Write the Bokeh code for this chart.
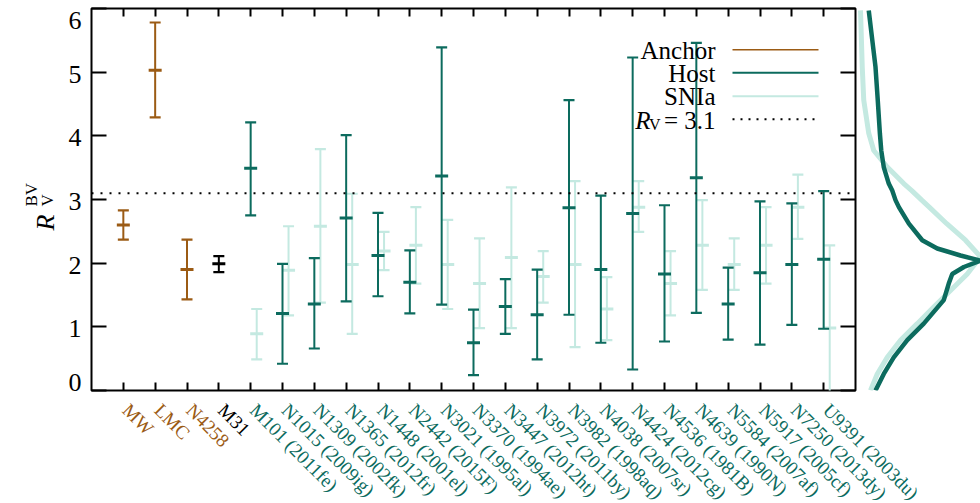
import math
from bokeh.plotting import figure
from bokeh.models import (Range1d, FixedTicker, LinearAxis, Span, Label,
                          ColumnDataSource, Arrow, CustomJSTickFormatter)
from bokeh.layouts import row, column
from bokeh.core.properties import value
from bokeh.embed import file_html
from bokeh.resources import INLINE

# ---------------- data ----------------
anchor_names = ["MW", "LMC", "N4258"]
anchor_rv = [2.60, 5.03, 1.90]
anchor_lo = [2.37, 4.29, 1.43]
anchor_hi = [2.83, 5.78, 2.37]

m31_names = ["M31"]
m31_rv = [1.99]
m31_lo = [1.86]
m31_hi = [2.11]

host_names = ["M101 (2011fe)", "N1015 (2009ig)", "N1309 (2002fk)", "N1365 (2012fr)",
              "N1448 (2001el)", "N2442 (2015F)", "N3021 (1995al)", "N3370 (1994ae)",
              "N3447 (2012ht)", "N3972 (2011by)", "N3982 (1998aq)", "N4038 (2007sr)",
              "N4424 (2012cg)", "N4536 (1981B)", "N4639 (1990N)", "N5584 (2007af)",
              "N5917 (2005cf)", "N7250 (2013dy)", "U9391 (2003du)"]
host_rv = [3.49, 1.21, 1.36, 2.71, 2.12, 1.70, 3.37, 0.75, 1.32, 1.19, 2.87, 1.90,
           2.78, 1.83, 3.34, 1.36, 1.85, 1.98, 2.06]
host_lo = [2.75, 0.42, 0.66, 1.40, 1.48, 1.21, 1.35, 0.24, 0.89, 0.49, 1.19, 0.75,
           0.33, 0.77, 1.22, 0.80, 0.72, 1.03, 0.97]
host_hi = [4.21, 1.99, 2.08, 4.01, 2.79, 2.20, 5.39, 1.27, 1.75, 1.90, 4.56, 3.06,
           5.23, 2.91, 5.46, 1.93, 2.97, 2.94, 3.13]

snia_rv = [0.89, 1.89, 2.58, 1.98, 2.19, 2.28, 1.98, 1.68, 2.09, 1.79, 1.98, 1.28,
           2.88, 1.68, 2.28, 1.98, 2.28, 2.88, 0.98]
snia_lo = [0.49, 1.18, 1.38, 0.89, 1.89, 1.68, 1.28, 0.98, 0.98, 1.38, 0.68, 0.79,
           2.49, 1.18, 1.58, 1.58, 1.68, 2.38, -0.32]
snia_hi = [1.28, 2.58, 3.79, 3.09, 2.49, 2.88, 2.68, 2.39, 3.19, 2.19, 3.29, 1.78,
           3.29, 2.19, 2.99, 2.39, 2.88, 3.39, 2.28]

# density curves (right panel), relative units
host_kde_rv = [5.97, 5.08, 4.56, 4.04, 3.77, 3.51, 3.25, 3.14, 2.99, 2.88, 2.62, 2.36,
               2.23, 2.12, 2.04, 1.94, 1.83, 1.68, 1.42, 1.05, 0.79, 0.52, 0.26, 0.0]
host_kde = [0.106, 0.16, 0.178, 0.195, 0.206, 0.226, 0.266, 0.294, 0.32, 0.347, 0.427,
            0.534, 0.654, 0.84, 1.0, 0.867, 0.774, 0.746, 0.706, 0.546, 0.414, 0.306,
            0.226, 0.16]
snia_kde_rv = [5.97, 5.08, 4.56, 4.04, 3.77, 3.51, 3.25, 3.14, 2.99, 2.88, 2.62, 2.36,
               2.10, 1.83, 1.57, 1.31, 1.05, 0.79, 0.52, 0.26, 0.0]
snia_kde = [0.04, 0.054, 0.066, 0.106, 0.146, 0.254, 0.386, 0.45, 0.53, 0.59, 0.73,
            0.88, 1.0, 0.894, 0.76, 0.626, 0.494, 0.36, 0.254, 0.174, 0.12]

rv_ref = 3.1
y_ticks = [0, 1, 2, 3, 4, 5, 6]
y_tick_labels = ["0", "1", "2", "3", "4", "5", "6"]

# ---------------- style ----------------
C_ANCHOR = "#9b5b14"
C_HOST = "#0c6b5e"
C_SNIA = "#c4e9e1"
C_M31 = "#000000"
FONT = "Liberation Serif"

names = anchor_names + m31_names + host_names
n_cat = len(names)
label_colors = [C_ANCHOR] * len(anchor_names) + [C_M31] * len(m31_names) + [C_HOST] * len(host_names)

W0 = 89             # left panel (tick labels + y-axis title)
FW, FH = 764, 382   # main frame
LB = 2              # main left border
TOP, BOT = 8, 8
W2 = 123            # density panel
ROW_H = TOP + FH + BOT
FRAME_LEFT = W0 + LB
PX_PER_Y = FH / 6.0


def px2x(px):
    return -1 + (px - FRAME_LEFT) / (FW / (n_cat + 1))


def py2y(py):
    return 6 - (py - TOP) / PX_PER_Y


blank = CustomJSTickFormatter(code="return ''")
yrange = Range1d(0, 6)

p = figure(frame_width=FW, frame_height=FH, x_range=Range1d(-1, n_cat),
           y_range=yrange, output_backend="svg", toolbar_location=None,
           min_border_left=LB, min_border_right=2, min_border_top=TOP,
           min_border_bottom=BOT, background_fill_color="white",
           border_fill_color="white")
p.grid.visible = False
p.outline_line_color = "black"
p.outline_line_width = 2

xt = FixedTicker(ticks=list(range(n_cat)))
yt = FixedTicker(ticks=y_ticks)

p.xaxis.ticker = xt
p.yaxis.ticker = yt
for ax in list(p.xaxis) + list(p.yaxis):
    ax.formatter = blank
    ax.major_label_text_font_size = "1px"
    ax.major_label_standoff = 0
    ax.major_tick_out = 0
    ax.minor_tick_line_color = None
    ax.axis_line_color = None
    ax.major_tick_line_width = 2
p.xaxis.major_tick_in = 8
p.yaxis.major_tick_in = 15

top_ax = LinearAxis(ticker=xt, formatter=blank, major_label_text_font_size="1px",
                    major_tick_in=8, major_tick_out=0, axis_line_color=None,
                    minor_tick_line_color=None, major_tick_line_width=2,
                    major_label_standoff=0)
p.add_layout(top_ax, "above")
right_ax = LinearAxis(ticker=yt, formatter=blank, major_label_text_font_size="1px",
                      major_tick_in=15, major_tick_out=0, axis_line_color=None,
                      minor_tick_line_color=None, major_tick_line_width=2,
                      major_label_standoff=0)
p.add_layout(right_ax, "right")

p.add_layout(Span(location=rv_ref, dimension="width", line_color="black",
                  line_dash="2 7", line_width=2))


def errbars(xs, ys, lo, hi, color, lw=2):
    src = ColumnDataSource(dict(x=xs, y=ys, lo=lo, hi=hi))
    p.segment(x0="x", y0="lo", x1="x", y1="hi", source=src, line_color=color, line_width=lw)
    p.dash(x="x", y="lo", source=src, size=11, line_color=color, line_width=2.2)
    p.dash(x="x", y="hi", source=src, size=11, line_color=color, line_width=2.2)
    p.dash(x="x", y="y", source=src, size=13, line_color=color, line_width=3)


i_anchor = list(range(len(anchor_names)))
i_m31 = [len(anchor_names) + k for k in range(len(m31_names))]
i_host = [len(anchor_names) + len(m31_names) + k for k in range(len(host_names))]
i_snia = [i + 0.19 for i in i_host]

errbars(i_snia, snia_rv, snia_lo, snia_hi, C_SNIA)
errbars(i_host, host_rv, host_lo, host_hi, C_HOST)
errbars(i_anchor, anchor_rv, anchor_lo, anchor_hi, C_ANCHOR)
errbars(i_m31, m31_rv, m31_lo, m31_hi, C_M31)

# legend (text on the left, sample line on the right)
LEG_FS = "25px"
leg_right = px2x(715)
leg_x0, leg_x1 = px2x(732), px2x(818)
leg_items = [("Anchor", C_ANCHOR, 1.6, 49.5, 49.3),
             ("Host", C_HOST, 2, 72.8, 72.3),
             ("SNIa", C_SNIA, 2, 96.2, 95.7)]
for txt, col, lw, base, ly in leg_items:
    p.add_layout(Label(x=leg_right, y=py2y(base), text=txt, text_align="right",
                       text_baseline="alphabetic", text_font=FONT, text_font_size=LEG_FS,
                       text_color="black"))
    p.add_layout(Arrow(start=None, end=None, x_start=leg_x0, y_start=py2y(ly),
                       x_end=leg_x1, y_end=py2y(ly), line_color=col, line_width=lw))
p.add_layout(Label(x=leg_right, y=py2y(119.5), text="= 3.1", text_align="right",
                   text_baseline="alphabetic", text_font=FONT, text_font_size=LEG_FS,
                   text_color="black"))
p.add_layout(Label(x=px2x(660), y=py2y(123.5), text="V", text_align="right",
                   text_baseline="alphabetic", text_font=FONT, text_font_size="16px",
                   text_color="black"))
p.add_layout(Label(x=px2x(650), y=py2y(119.5), text="R", text_align="right",
                   text_baseline="alphabetic", text_font=FONT, text_font_style="italic",
                   text_font_size=LEG_FS, text_color="black"))
p.add_layout(Arrow(start=None, end=None, x_start=leg_x0, y_start=py2y(118.7),
                   x_end=leg_x1, y_end=py2y(118.7), line_color="black", line_width=2,
                   line_dash="2 6"))

# left panel: y tick labels and y-axis title  R_V^BV (frame reaches row bottom)
p0 = figure(frame_width=W0, frame_height=FH + BOT, x_range=Range1d(0, W0),
            y_range=Range1d(py2y(ROW_H), 6), output_backend="svg",
            toolbar_location=None, min_border_left=0, min_border_right=0,
            min_border_top=TOP, min_border_bottom=0, x_axis_location=None,
            y_axis_location=None, background_fill_color="white",
            border_fill_color="white")
p0.grid.visible = False
p0.outline_line_color = None
nudge_px = {0: -8, 6: 12}   # end labels pulled inside the frame
tick_y = [t - nudge_px.get(t, 2) / PX_PER_Y for t in y_ticks]
p0.text(x=[81] * len(y_ticks), y=tick_y, text=y_tick_labels, text_align="right",
        text_baseline="middle", text_font=value(FONT), text_font_size="26px",
        text_color="black")
p0.add_layout(Label(x=45, y=py2y(230), text="R", angle=math.pi / 2, text_align="left",
                    text_baseline="alphabetic", text_font=FONT, text_font_style="italic",
                    text_font_size="26px", text_color="black"))
p0.add_layout(Label(x=47, y=py2y(206), text="V", angle=math.pi / 2, text_align="left",
                    text_baseline="alphabetic", text_font=FONT, text_font_size="17px",
                    text_color="black"))
p0.add_layout(Label(x=31, y=py2y(206), text="BV", angle=math.pi / 2, text_align="left",
                    text_baseline="alphabetic", text_font=FONT, text_font_size="17px",
                    text_color="black"))

# right panel: densities
p2 = figure(frame_width=W2, frame_height=FH, x_range=Range1d(0.016, 1.0),
            y_range=yrange, output_backend="svg", toolbar_location=None,
            min_border_left=0, min_border_right=0, min_border_top=TOP,
            min_border_bottom=BOT, x_axis_location=None, y_axis_location=None,
            background_fill_color="white", border_fill_color="white")
p2.grid.visible = False
p2.outline_line_color = None
p2.line(snia_kde, snia_kde_rv, line_color=C_SNIA, line_width=5)
p2.line(host_kde, host_kde_rv, line_color=C_HOST, line_width=4.5)

# bottom panel: rotated, coloured category labels aligned with the main x scale
H3 = 503 - ROW_H
p3 = figure(frame_width=980, frame_height=H3, x_range=Range1d(px2x(0), px2x(980)),
            y_range=Range1d(503, ROW_H), output_backend="svg", toolbar_location=None,
            min_border_left=0, min_border_right=0, min_border_top=0, min_border_bottom=0,
            x_axis_location=None, y_axis_location=None,
            background_fill_color="white", border_fill_color="white")
p3.grid.visible = False
p3.outline_line_color = None
lab_src = ColumnDataSource(dict(x=list(range(n_cat)), y=[399] * n_cat,
                                text=names, color=label_colors))
p3.text(x="x", y="y", text="text", source=lab_src, angle=-math.pi / 4,
        text_align="left", text_baseline="top", text_color="color",
        text_font=value(FONT), text_font_size="19px", x_offset=10)

layout = column(row(p0, p, p2), p3)
open("out.html", "w").write(file_html(layout, INLINE))
